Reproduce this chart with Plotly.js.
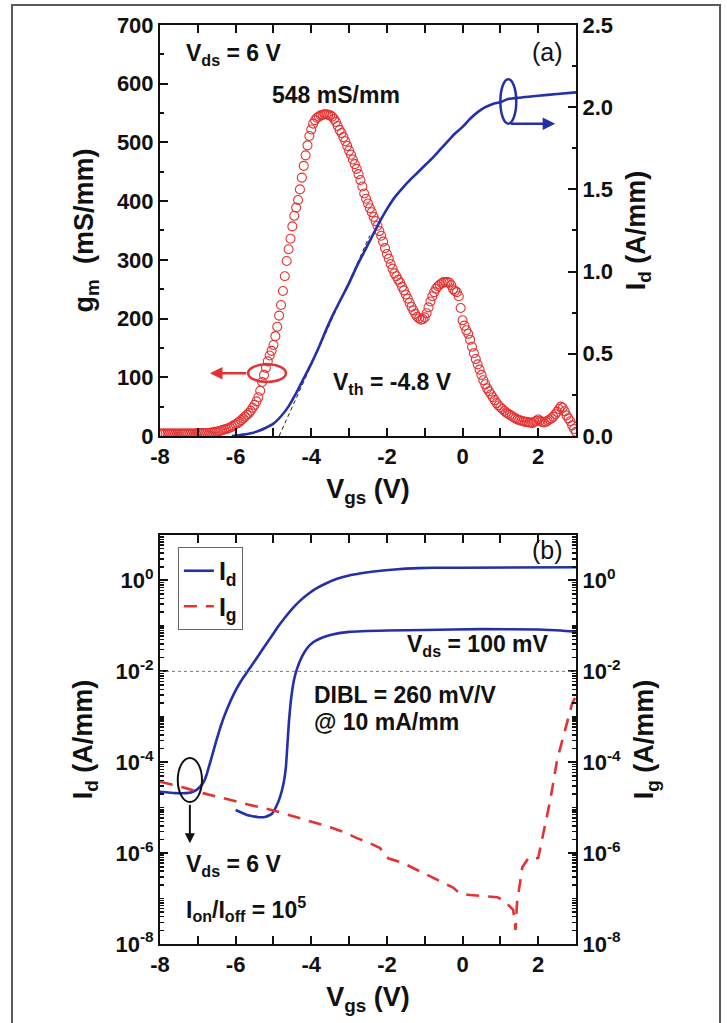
<!DOCTYPE html>
<html>
<head>
<meta charset="utf-8">
<script src="https://cdn.plot.ly/plotly-3.0.1.min.js"></script>
<style>html,body{margin:0;padding:0;background:#fff;}#chart{width:727px;height:1023px;}</style>
</head>
<body>
<div id="chart"></div>
<script>
// ---------- Panel (a): transconductance and drain current at Vds = 6 V ----------
const vgsGm = [
-8.00,-7.95,-7.90,-7.85,-7.80,-7.75,-7.70,-7.65,-7.60,-7.55,-7.50,-7.45,-7.40,-7.35,-7.30,-7.25,-7.20,-7.15,-7.10,-7.05,
-7.00,-6.95,-6.90,-6.85,-6.80,-6.75,-6.70,-6.65,-6.60,-6.55,-6.50,-6.45,-6.40,-6.35,-6.30,-6.25,-6.20,-6.15,-6.10,-6.05,
-6.00,-5.95,-5.90,-5.85,-5.80,-5.75,-5.70,-5.65,-5.60,-5.55,-5.50,-5.45,-5.40,-5.35,-5.30,-5.25,-5.20,-5.15,-5.10,-5.05,
-5.00,-4.95,-4.90,-4.85,-4.80,-4.75,-4.70,-4.65,-4.60,-4.55,-4.50,-4.45,-4.40,-4.35,-4.30,-4.25,-4.20,-4.15,-4.10,-4.05,
-4.00,-3.95,-3.90,-3.85,-3.80,-3.75,-3.70,-3.65,-3.60,-3.55,-3.50,-3.45,-3.40,-3.35,-3.30,-3.25,-3.20,-3.15,-3.10,-3.05,
-3.00,-2.95,-2.90,-2.85,-2.80,-2.75,-2.70,-2.65,-2.60,-2.55,-2.50,-2.45,-2.40,-2.35,-2.30,-2.25,-2.20,-2.15,-2.10,-2.05,
-2.00,-1.95,-1.90,-1.85,-1.80,-1.75,-1.70,-1.65,-1.60,-1.55,-1.50,-1.45,-1.40,-1.35,-1.30,-1.25,-1.20,-1.15,-1.10,-1.05,
-1.00,-0.95,-0.90,-0.85,-0.80,-0.75,-0.70,-0.65,-0.60,-0.55,-0.50,-0.45,-0.40,-0.35,-0.30,-0.25,-0.20,-0.15,-0.10,-0.05,
0.00,0.05,0.10,0.15,0.20,0.25,0.30,0.35,0.40,0.45,0.50,0.55,0.60,0.65,0.70,0.75,0.80,0.85,0.90,0.95,
1.00,1.05,1.10,1.15,1.20,1.25,1.30,1.35,1.40,1.45,1.50,1.55,1.60,1.65,1.70,1.75,1.80,1.85,1.90,1.95,
2.00,2.05,2.10,2.15,2.20,2.25,2.30,2.35,2.40,2.45,2.50,2.55,2.60,2.65,2.70,2.75,2.80,2.85,2.90,2.95,
3.00];
const gm = [
4,4,4,4,4,4,4,4,4,4,4,4,4,4,4,4,4,4,4,4,
5,5,5,5,5,5,5,6,6,7,7,8,9,10,11,12,13,14,16,18,
20,22,24,27,30,33,36,39,43,48,53,59,66,77,92,104,116,127,137,145,
155,170,186,205,223,247,272,298,318,336,357,375,389,402,420,440,460,478,495,511,
522,532,538,542,544,546,547,548,548,547,546,544,540,535,528,521,516,509,502,494,
486,479,471,463,455,446,436,425,413,404,396,388,381,373,366,358,349,341,331,320,
310,302,293,285,277,272,266,261,254,248,241,234,227,220,214,208,203,200,198,199,
202,209,219,229,238,245,251,255,258,260,262,262,262,261,257,250,247,245,238,218,
197,188,180,174,164,152,141,131,122,113,104,95,88,81,76,71,66,61,56,52,
49,46,43,40,38,36,34,32,30,28,27,26,25,24,24,23,23,22,24,26,
28,26,24,23,24,26,28,30,33,37,41,46,50,48,42,35,30,25,18,12,
7];

const vgsIdLin = [-6.1,-6.0,-5.8,-5.6,-5.4,-5.2,-5.0,-4.8,-4.6,-4.4,-4.2,-4.0,-3.8,-3.6,-3.4,-3.2,-3.0,-2.8,-2.6,-2.4,-2.2,-2.0,-1.8,-1.6,-1.4,-1.2,-1.0,-0.8,-0.6,-0.4,-0.2,0.0,0.2,0.4,0.6,0.8,1.0,1.2,1.6,2.0,2.5,3.0];
const idLin = [0,0.003,0.008,0.016,0.03,0.05,0.075,0.12,0.18,0.26,0.35,0.44,0.54,0.65,0.75,0.84,0.93,1.03,1.12,1.21,1.30,1.38,1.45,1.505,1.555,1.60,1.645,1.69,1.74,1.79,1.84,1.88,1.93,1.97,2.00,2.02,2.03,2.05,2.06,2.07,2.08,2.09];

// threshold extrapolation line (Vth = -4.8 V)
const vthLineV = [-4.85,-2.45];
const vthLineI = [0,1.22];

// ---------- Panel (b): transfer curves, log scale ----------
const vgsId6V = [-8.0,-7.6,-7.3,-7.1,-6.95,-6.85,-6.77,-6.70,-6.62,-6.52,-6.40,-6.25,-6.05,-5.85,-5.70,-5.50,-5.30,-5.10,-4.90,-4.70,-4.50,-4.30,-4.10,-3.90,-3.60,-3.30,-3.00,-2.60,-2.10,-1.50,-0.80,0,3];
const id6V = [2.24e-5,2.09e-5,2.09e-5,2.29e-5,2.82e-5,3.63e-5,5.25e-5,8.32e-5,1.41e-4,2.82e-4,6.03e-4,1.32e-3,3.16e-3,6.31e-3,9.55e-3,1.66e-2,2.95e-2,5.13e-2,9.12e-2,0.151,0.240,0.355,0.490,0.646,0.871,1.10,1.29,1.48,1.66,1.82,1.91,1.91,1.95];

const vgsId100mV = [-6.0,-5.7,-5.4,-5.2,-5.05,-4.93,-4.82,-4.73,-4.67,-4.63,-4.59,-4.54,-4.46,-4.38,-4.25,-4.10,-3.95,-3.75,-3.5,-3.0,-2.0,-1.0,0.5,2.0,2.6,3.0];
const id100mV = [8.91e-6,6.92e-6,6.17e-6,6.31e-6,7.24e-6,1.05e-5,1.78e-5,3.55e-5,7.94e-5,2.51e-4,7.94e-4,2.24e-3,6.31e-3,1.12e-2,2.09e-2,3.31e-2,4.37e-2,5.37e-2,6.31e-2,7.41e-2,7.94e-2,8.13e-2,8.51e-2,8.32e-2,7.94e-2,7.41e-2];

const vgsIg = [-8.0,-7.4,-6.86,-6.2,-5.62,-5.0,-4.38,-3.9,-3.5,-3.1,-2.79,-2.4,-2.18,-2.05,-1.95,-1.57,-1.2,-0.94,-0.51,-0.25,-0.14,0.0,0.2,0.6,0.92,1.1,1.26,1.34,1.40,1.44,1.58,1.71,1.80,1.87,2.0,2.13,2.32,2.50,2.71,2.90,3.0];
const ig = [3.72e-5,2.82e-5,2.09e-5,1.51e-5,1.15e-5,8.71e-6,6.17e-6,4.68e-6,3.72e-6,2.82e-6,2.14e-6,1.58e-6,1.29e-6,8.91e-7,7.59e-7,6.03e-7,4.27e-7,3.31e-7,2.19e-7,1.74e-7,1.45e-7,1.26e-7,1.20e-7,1.12e-7,1.07e-7,8.91e-8,6.46e-8,5.62e-8,2.04e-8,7.94e-8,4.90e-7,7.08e-7,6.61e-7,7.59e-7,7.76e-7,2.75e-6,1.48e-5,1.12e-4,5.13e-4,2.0e-3,2.82e-3];

const refCurrent = 0.01; // 10 mA/mm reference line

// ---------- Tick labels ----------
const xTickVals = [-8,-6,-4,-2,0,2];
const xTickText = ['-8','-6','-4','-2','0','2'];
const xMinorVals = [-7,-5,-3,-1,1,3];
const gmTickVals = [0,100,200,300,400,500,600,700];
const gmMinorVals = [50,150,250,350,450,550,650];
const idTickVals = [0,0.5,1.0,1.5,2.0,2.5];
const idTickText = ['0.0','0.5','1.0','1.5','2.0','2.5'];
const idMinorVals = [0.25,0.75,1.25,1.75,2.25];
const logTickVals = [1e-8,1e-6,1e-4,1e-2,1];
const logTickText = ['10<sup>-8</sup>','10<sup>-6</sup>','10<sup>-4</sup>','10<sup>-2</sup>','10<sup>0</sup>'];

// minor ticks on log axes (1..9 of each decade)
const logMinorVals = [];
for (let e = -8; e <= 0; e++) {
  for (let m = 1; m <= 9; m++) logMinorVals.push(m * Math.pow(10, e));
}
logMinorVals.push(10);

const FONT = 'Liberation Sans, Arial, Helvetica, sans-serif';
const tickFont = {family: FONT, size: 22, color: '#111', weight: 'bold'};
const titleFont = {family: FONT, size: 27, color: '#111', weight: 'bold'};
const annFont = {family: FONT, size: 23, color: '#111', weight: 'bold'};

const RED = 'rgb(228,50,50)';
const BLUE = 'rgb(36,48,170)';

const traces = [
  {x: vthLineV, y: vthLineI, xaxis: 'x', yaxis: 'y2', mode: 'lines', showlegend: false,
   line: {color: '#222', width: 1, dash: '4px,3px'}},
  {x: vgsGm, y: gm, xaxis: 'x', yaxis: 'y', mode: 'markers', showlegend: false,
   marker: {symbol: 'circle-open', size: 9, color: RED, line: {width: 1.1, color: RED}}},
  {x: vgsIdLin, y: idLin, xaxis: 'x', yaxis: 'y2', mode: 'lines', showlegend: false,
   line: {color: BLUE, width: 2.6, shape: 'spline', smoothing: 0.6}},
  {x: vgsId6V, y: id6V, xaxis: 'x2', yaxis: 'y3', mode: 'lines', name: 'I<sub>d</sub>',
   line: {color: BLUE, width: 2.6, shape: 'spline', smoothing: 0.3}},
  {x: vgsIg, y: ig, xaxis: 'x2', yaxis: 'y4', mode: 'lines', name: 'I<sub>g</sub>',
   line: {color: RED, width: 2.6, dash: '13px,9px'}},
  {x: vgsId100mV, y: id100mV, xaxis: 'x2', yaxis: 'y3', mode: 'lines', showlegend: false,
   line: {color: BLUE, width: 2.6, shape: 'spline', smoothing: 0.3}}
];

function linAxis(extra) {
  return Object.assign({
    showline: true, linewidth: 2, linecolor: '#111', ticks: 'inside', ticklen: 8, tickwidth: 2,
    tickcolor: '#111', showgrid: false, zeroline: false, tickfont: tickFont, automargin: false
  }, extra);
}

const layout = {
  width: 727, height: 1023,
  margin: {l: 160, r: 151, t: 25, b: 79},
  paper_bgcolor: '#fff', plot_bgcolor: '#fff',
  showlegend: true,
  legend: {x: 0.043, y: 0.432, xanchor: 'left', yanchor: 'top', bgcolor: '#fff',
    bordercolor: '#666', borderwidth: 1, font: {family: FONT, size: 25, color: '#111', weight: 'bold'},
    tracegroupgap: 2},
  xaxis: linAxis({domain: [0, 1], anchor: 'y', range: [-8, 3], tickmode: 'array',
    tickvals: xTickVals, ticktext: xTickText, mirror: 'allticks',
    minor: {tickvals: xMinorVals, ticks: 'inside', ticklen: 4, tickwidth: 2, tickcolor: '#111'},
    title: {text: 'V<sub>gs</sub> (V)', font: titleFont, standoff: 11}}),
  yaxis: linAxis({domain: [0.5528, 1], anchor: 'x', range: [0, 700], tickmode: 'array',
    tickvals: gmTickVals, mirror: false,
    minor: {tickvals: gmMinorVals, ticks: 'inside', ticklen: 4, tickwidth: 2, tickcolor: '#111'},
    title: {text: 'g<sub>m</sub>  (mS/mm)', font: titleFont, standoff: 15}}),
  yaxis2: linAxis({overlaying: 'y', side: 'right', anchor: 'x', range: [0, 2.5], tickmode: 'array',
    tickvals: idTickVals, ticktext: idTickText,
    minor: {tickvals: idMinorVals, ticks: 'inside', ticklen: 4, tickwidth: 2, tickcolor: '#111'},
    title: {text: 'I<sub>d</sub> (A/mm)', font: titleFont, standoff: 14}}),
  xaxis2: linAxis({domain: [0, 1], anchor: 'y3', range: [-8, 3], tickmode: 'array',
    tickvals: xTickVals, ticktext: xTickText, mirror: 'allticks',
    minor: {tickvals: xMinorVals, ticks: 'inside', ticklen: 4, tickwidth: 2, tickcolor: '#111'},
    title: {text: 'V<sub>gs</sub> (V)', font: titleFont, standoff: 11}}),
  yaxis3: linAxis({domain: [0, 0.445], anchor: 'x2', type: 'log', range: [-8, 1], tickmode: 'array',
    tickvals: logTickVals, ticktext: logTickText, mirror: false,
    minor: {tickvals: logMinorVals, ticks: 'inside', ticklen: 4, tickwidth: 1.5, tickcolor: '#111'},
    title: {text: 'I<sub>d</sub> (A/mm)', font: titleFont, standoff: 15}}),
  yaxis4: linAxis({overlaying: 'y3', side: 'right', anchor: 'x2', type: 'log', range: [-8, 1], tickmode: 'array',
    tickvals: logTickVals, ticktext: logTickText,
    minor: {tickvals: logMinorVals, ticks: 'inside', ticklen: 4, tickwidth: 1.5, tickcolor: '#111'},
    title: {text: 'I<sub>g</sub> (A/mm)', font: titleFont, standoff: 14}}),
  shapes: [
    // outer frame
    {type: 'rect', xref: 'paper', yref: 'paper', x0: -0.3558, x1: 1.3462, y0: -0.094, y1: 1.0218,
     line: {color: 'rgb(90,90,90)', width: 2}, layer: 'below'},
    // red ellipse (gm, left axis)
    {type: 'circle', xref: 'x', yref: 'y', x0: -5.67, x1: -4.67, y0: 92, y1: 122,
     line: {color: RED, width: 2.5}},
    // blue ellipse (Id, right axis)
    {type: 'circle', xref: 'x', yref: 'y2', x0: 1.0, x1: 1.42, y0: 1.90, y1: 2.17,
     line: {color: BLUE, width: 2.5}},
    // black ellipse in panel b
    {type: 'circle', xref: 'x2', yref: 'y3 domain', x0: -7.53, x1: -6.89, y0: 0.347, y1: 0.455,
     line: {color: '#111', width: 2}},
    // 10 mA/mm reference line
    {type: 'line', xref: 'x2 domain', yref: 'y3', x0: 0, x1: 1, y0: refCurrent, y1: refCurrent,
     line: {color: '#777', width: 1, dash: 'dot'}}
  ],
  annotations: [
    {xref: 'x', yref: 'y', x: -7.36, y: 649, xanchor: 'left', text: 'V<sub>ds</sub> = 6 V', showarrow: false, font: annFont},
    {xref: 'x', yref: 'y', x: -3.34, y: 581, xanchor: 'center', text: '548 mS/mm', showarrow: false, font: annFont},
    {xref: 'x', yref: 'y', x: 2.24, y: 654, xanchor: 'center', text: '(a)', showarrow: false,
     font: {family: FONT, size: 25, color: '#111'}},
    {xref: 'x', yref: 'y', x: -1.86, y: 90, xanchor: 'center', text: 'V<sub>th</sub> = -4.8 V', showarrow: false, font: annFont},
    // red arrow pointing left
    {xref: 'x', yref: 'y', x: -6.68, y: 107, ax: 38, ay: 0, text: '', showarrow: true,
     arrowcolor: RED, arrowwidth: 2.5, arrowhead: 2, arrowsize: 1},
    // blue arrow pointing right
    {xref: 'x', yref: 'y2', x: 2.45, y: 1.90, ax: -46, ay: 0, text: '', showarrow: true,
     arrowcolor: BLUE, arrowwidth: 2.5, arrowhead: 2, arrowsize: 1},
    {xref: 'x2', yref: 'y3', x: 2.24, y: 0.67, xanchor: 'center', text: '(b)', showarrow: false,
     font: {family: FONT, size: 25, color: '#111'}},
    {xref: 'x2', yref: 'y3', x: 0.41, y: -1.42, xanchor: 'center', text: 'V<sub>ds</sub> = 100 mV', showarrow: false, font: annFont},
    {xref: 'x2', yref: 'y3', x: -3.98, y: -2.52, xanchor: 'left', text: 'DIBL = 260 mV/V', showarrow: false, font: annFont},
    {xref: 'x2', yref: 'y3', x: -3.98, y: -3.11, xanchor: 'left', text: '@ 10 mA/mm', showarrow: false, font: annFont},
    {xref: 'x2', yref: 'y3', x: -7.36, y: -6.28, xanchor: 'left', text: 'V<sub>ds</sub> = 6 V', showarrow: false, font: annFont},
    {xref: 'x2', yref: 'y3', x: -7.36, y: -7.22, xanchor: 'left', text: 'I<sub>on</sub>/I<sub>off</sub> = 10<sup>5</sup>', showarrow: false, font: annFont},
    // black arrow pointing down
    {xref: 'x2', yref: 'y3', x: -7.21, y: -5.78, ax: 0, ay: -40, text: '', showarrow: true,
     arrowcolor: '#111', arrowwidth: 2, arrowhead: 2, arrowsize: 1}
  ]
};

Plotly.newPlot('chart', traces, layout, {displayModeBar: false, staticPlot: true});
</script>
</body>
</html>
